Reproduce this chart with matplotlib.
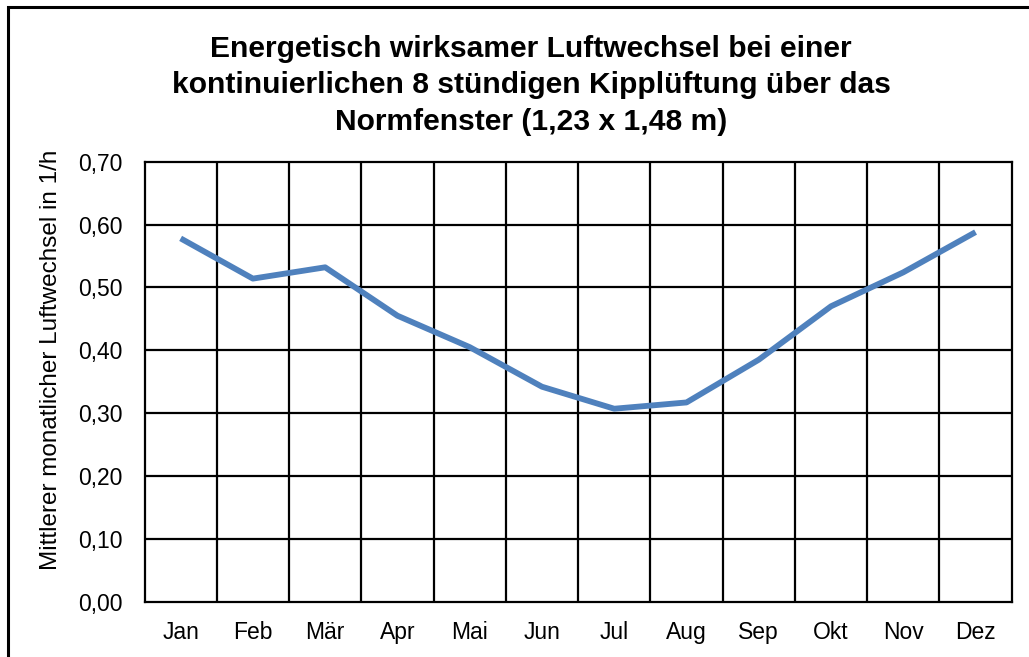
import matplotlib
matplotlib.use("Agg")
import matplotlib.pyplot as plt
from matplotlib.patches import Rectangle
import numpy as np

plt.rcParams["font.family"] = ["Liberation Sans", "DejaVu Sans"]

months = ["Jan", "Feb", "Mär", "Apr", "Mai", "Jun", "Jul", "Aug", "Sep", "Okt", "Nov", "Dez"]
luftwechsel = [0.578, 0.514, 0.532, 0.455, 0.405, 0.342, 0.307, 0.317, 0.385, 0.470, 0.524, 0.588]
yticks = [0.0, 0.1, 0.2, 0.3, 0.4, 0.5, 0.6, 0.7]
title = ("Energetisch wirksamer Luftwechsel bei einer\n"
         "kontinuierlichen 8 stündigen Kipplüftung über das\n"
         "Normfenster (1,23 x 1,48 m)")
ylabel = "Mittlerer monatlicher Luftwechsel in 1/h"

fig = plt.figure(figsize=(10.29, 6.57), dpi=100)
# outer chart border (runs off right and bottom edge like the source)
fig.patches.append(Rectangle((8/1029, -0.05), 1.2, 1 - 6.5/657 + 0.05, transform=fig.transFigure,
                             fill=False, edgecolor="black", lw=2.2, clip_on=False))

ax = fig.add_axes([144.5/1029, 55.3/657, 867.2/1029, 440/657])
x = np.arange(len(months))
ax.plot(x, luftwechsel, color="#4F81BD", lw=4.2, solid_capstyle="butt", zorder=3)

ax.set_xlim(-0.5, len(months) - 0.5)
ax.set_ylim(0, 0.7)
ax.set_yticks(yticks)
ax.set_yticklabels([f"{v:.2f}".replace(".", ",") for v in yticks])
ax.set_xticks(x)
ax.set_xticklabels(months)
for xv in np.arange(0.5, len(months) - 0.5):
    ax.axvline(xv, color="black", lw=1.6, zorder=1)
for yv in yticks[1:-1]:
    ax.axhline(yv, color="black", lw=1.6, zorder=1)
for s in ax.spines.values():
    s.set_linewidth(1.6)
    s.set_color("black")
ax.tick_params(axis="both", length=0, labelsize=16.5)
ax.tick_params(axis="y", pad=15.5)
ax.tick_params(axis="x", pad=14)

fig.text(51/1029, 1 - 360/657, ylabel, rotation=90, ha="center", va="center", fontsize=17.5)
fig.text(0.516, 0.947, title, ha="center", va="top", fontsize=21.6, fontweight="bold", linespacing=1.38)

fig.savefig("out.png", dpi=100)
